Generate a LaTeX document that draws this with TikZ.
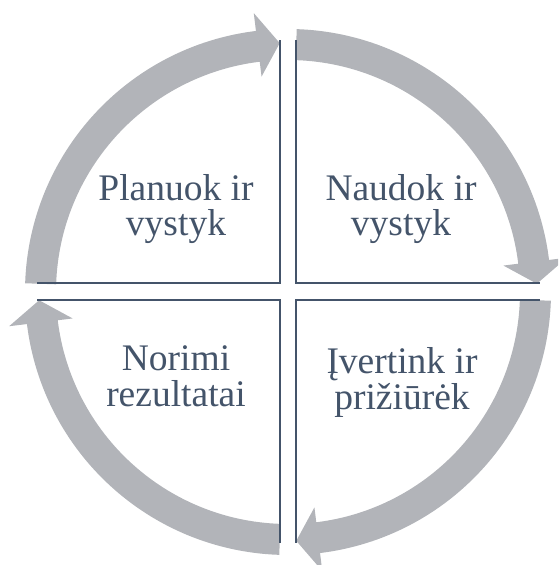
\documentclass[tikz,border=0pt]{standalone}
\usepackage{fontspec}
\setmainfont{Liberation Serif}
\definecolor{ringgray}{HTML}{B2B4B9}
\definecolor{slate}{HTML}{44546A}

% one segment of the cycle ring: band from #1 to #2 (clockwise), head tip at #3
\newcommand\cyclearrow[3]{%
  \fill[ringgray] (#1:263) arc[start angle=#1, end angle=#2, radius=263]
    -- (#2:281) -- (#3:249) -- (#2:217) -- (#2:232)
    arc[start angle=#2, end angle=#1, radius=232] -- cycle;}

\tikzset{
  quadline/.style={draw=slate, line width=2.7pt, line cap=butt, line join=miter},
  quadlabel/.style={text=slate, align=center, inner sep=0pt,
    font=\fontsize{37.5}{35.5}\selectfont}
}

\begin{document}
\begin{tikzpicture}[x=1pt, y=1pt]
  \useasboundingbox (0,0) rectangle (558,565);
  \clip (0,0) rectangle (558,565);

  % ring of four arrows around the centre
  \begin{scope}[shift={(288,273)}]
    \cyclearrow{178.1}{97}{91.9}
    \cyclearrow{88.1}{7}{1.9}
    \cyclearrow{-1.9}{-83}{-88.1}
    \cyclearrow{-91.9}{-173}{-178.1}
  \end{scope}

  % quadrant borders
  \draw[quadline] (37,282) -- (280,282) -- (280,525);
  \draw[quadline] (296,525) -- (296,282) -- (540,282);
  \draw[quadline] (37,265) -- (280,265) -- (280,22);
  \draw[quadline] (540,265) -- (296,265) -- (296,22);

  % quadrant texts
  \node[quadlabel] (plan) at (176,356) {Planuok ir\\vystyk};
  \node[quadlabel] (use) at (401,356) {Naudok ir\\vystyk};
  \node[quadlabel] (goal) at (176,188.5) {Norimi\\rezultatai};
  \node[quadlabel] (check) at (402,182.5) {Įvertink ir\\prižiūrėk};
\end{tikzpicture}
\end{document}
